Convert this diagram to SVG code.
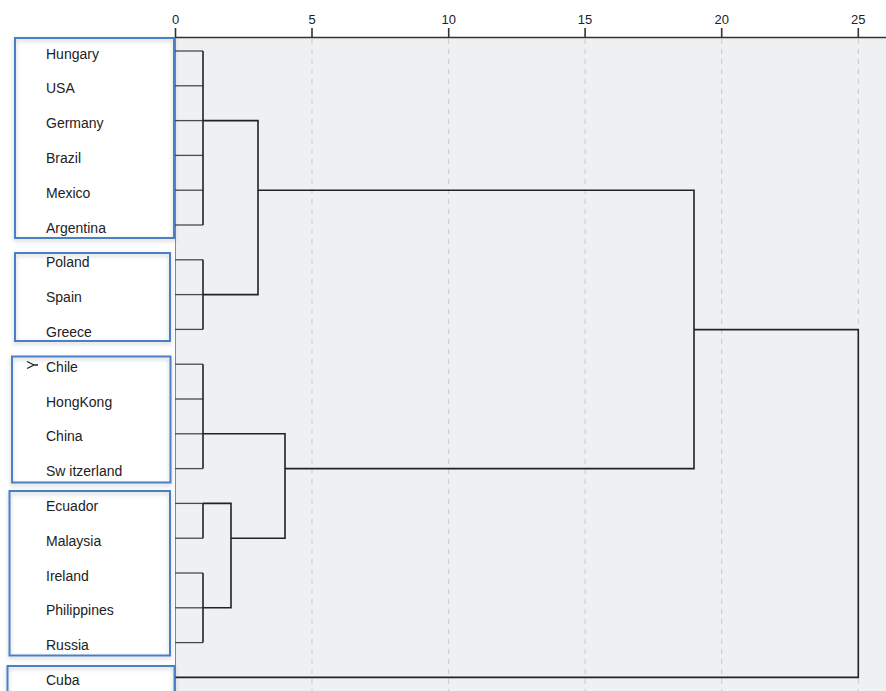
<svg xmlns="http://www.w3.org/2000/svg" width="886" height="691" viewBox="0 0 886 691">
<defs>
<style>
.lbl{font-family:"Liberation Sans",Arial,sans-serif;font-size:14px;fill:#222}
.tick{font-family:"Liberation Sans",Arial,sans-serif;font-size:13px;fill:#222;text-anchor:middle}
.grid{stroke:#c8c9cc;stroke-width:1;stroke-dasharray:5,5}
.leaf{stroke:#4a4a4a;stroke-width:1.3;fill:none}
.link{stroke:#222;stroke-width:1.6;fill:none}
.box{fill:none;stroke:#4a80c4;stroke-width:2;filter:url(#sh)}
</style>
<filter id="sh" x="-10%" y="-10%" width="120%" height="130%">
<feDropShadow dx="0" dy="2" stdDeviation="2" flood-color="#000" flood-opacity="0.22"/>
</filter>
</defs>
<rect x="0" y="0" width="886" height="691" fill="#fff"/>
<rect x="175" y="38" width="711" height="653" fill="#eff0f2"/>
<g id="axis">
<g class="grid">
<line x1="312" y1="39" x2="312" y2="691"/>
<line x1="448.7" y1="39" x2="448.7" y2="691"/>
<line x1="585.1" y1="39" x2="585.1" y2="691"/>
<line x1="721.7" y1="39" x2="721.7" y2="691"/>
<line x1="858.3" y1="39" x2="858.3" y2="691"/>
</g>
<line x1="175" y1="37.5" x2="886" y2="37.5" stroke="#333" stroke-width="1.6"/>
<line x1="175.5" y1="38" x2="175.5" y2="691" stroke="#888" stroke-width="1"/>
<g stroke="#333" stroke-width="1.6">
<line x1="175.5" y1="28" x2="175.5" y2="38"/>
<line x1="312" y1="28" x2="312" y2="38"/>
<line x1="448.7" y1="28" x2="448.7" y2="38"/>
<line x1="585.1" y1="28" x2="585.1" y2="38"/>
<line x1="721.7" y1="28" x2="721.7" y2="38"/>
<line x1="858.3" y1="28" x2="858.3" y2="38"/>
</g>
<text class="tick" x="175.5" y="24">0</text>
<text class="tick" x="312" y="24">5</text>
<text class="tick" x="448.7" y="24">10</text>
<text class="tick" x="585.1" y="24">15</text>
<text class="tick" x="721.7" y="24">20</text>
<text class="tick" x="858.3" y="24">25</text>
</g>
<g id="connectors">
<g class="leaf">
<line x1="175" y1="51" x2="203" y2="51"/>
<line x1="175" y1="85.8" x2="203" y2="85.8"/>
<line x1="175" y1="120.6" x2="203" y2="120.6"/>
<line x1="175" y1="155.4" x2="203" y2="155.4"/>
<line x1="175" y1="190.2" x2="203" y2="190.2"/>
<line x1="175" y1="225" x2="203" y2="225"/>
<line x1="175" y1="259.8" x2="203" y2="259.8"/>
<line x1="175" y1="294.6" x2="203" y2="294.6"/>
<line x1="175" y1="329.4" x2="203" y2="329.4"/>
<line x1="175" y1="364.2" x2="203" y2="364.2"/>
<line x1="175" y1="399" x2="203" y2="399"/>
<line x1="175" y1="433.8" x2="203" y2="433.8"/>
<line x1="175" y1="468.6" x2="203" y2="468.6"/>
<line x1="175" y1="503.4" x2="203" y2="503.4"/>
<line x1="175" y1="538.2" x2="203" y2="538.2"/>
<line x1="175" y1="573" x2="203" y2="573"/>
<line x1="175" y1="607.8" x2="203" y2="607.8"/>
<line x1="175" y1="642.6" x2="203" y2="642.6"/>
</g>
<g class="link">
<polyline points="203,51 203,225"/>
<polyline points="203,259.8 203,329.4"/>
<polyline points="203,364.2 203,468.6"/>
<polyline points="203,503.4 203,538.2"/>
<polyline points="203,573 203,642.6"/>
<polyline points="203,120.6 258,120.6 258,294.6 203,294.6"/>
<polyline points="203,433.8 285,433.8 285,538.2 231,538.2"/>
<polyline points="203,503.4 231,503.4 231,607.8 203,607.8"/>
<polyline points="258,190.2 694,190.2 694,468.6 285,468.6"/>
<polyline points="694,329.6 858.3,329.6 858.3,677.4 175,677.4"/>
</g>
</g>
<g id="group-1">
<rect class="box" x="15" y="38" width="159" height="200"/>
<text class="lbl" x="46" y="58.5">Hungary</text>
<text class="lbl" x="46" y="93.3">USA</text>
<text class="lbl" x="46" y="128.1">Germany</text>
<text class="lbl" x="46" y="162.9">Brazil</text>
<text class="lbl" x="46" y="197.7">Mexico</text>
<text class="lbl" x="46" y="232.5">Argentina</text>
</g>
<g id="group-2">
<rect class="box" x="15" y="253" width="155" height="88"/>
<text class="lbl" x="46" y="267.3">Poland</text>
<text class="lbl" x="46" y="302.1">Spain</text>
<text class="lbl" x="46" y="336.9">Greece</text>
</g>
<g id="group-3">
<rect class="box" x="12" y="356.5" width="158.5" height="126"/>
<path d="M27,361.5 L34,365 L27,368.5 M34,365 H38" fill="none" stroke="#222" stroke-width="1.3"/>
<text class="lbl" x="46" y="371.7">Chile</text>
<text class="lbl" x="46" y="406.5">HongKong</text>
<text class="lbl" x="46" y="441.3">China</text>
<text class="lbl" x="46" y="476.1">Sw itzerland</text>
</g>
<g id="group-4">
<rect class="box" x="9.5" y="491" width="160.5" height="164.5"/>
<text class="lbl" x="46" y="510.9">Ecuador</text>
<text class="lbl" x="46" y="545.7">Malaysia</text>
<text class="lbl" x="46" y="580.5">Ireland</text>
<text class="lbl" x="46" y="615.3">Philippines</text>
<text class="lbl" x="46" y="650.1">Russia</text>
</g>
<g id="group-5">
<rect class="box" x="7.5" y="666" width="167" height="30"/>
<text class="lbl" x="46" y="684.9">Cuba</text>
</g>
</svg>
